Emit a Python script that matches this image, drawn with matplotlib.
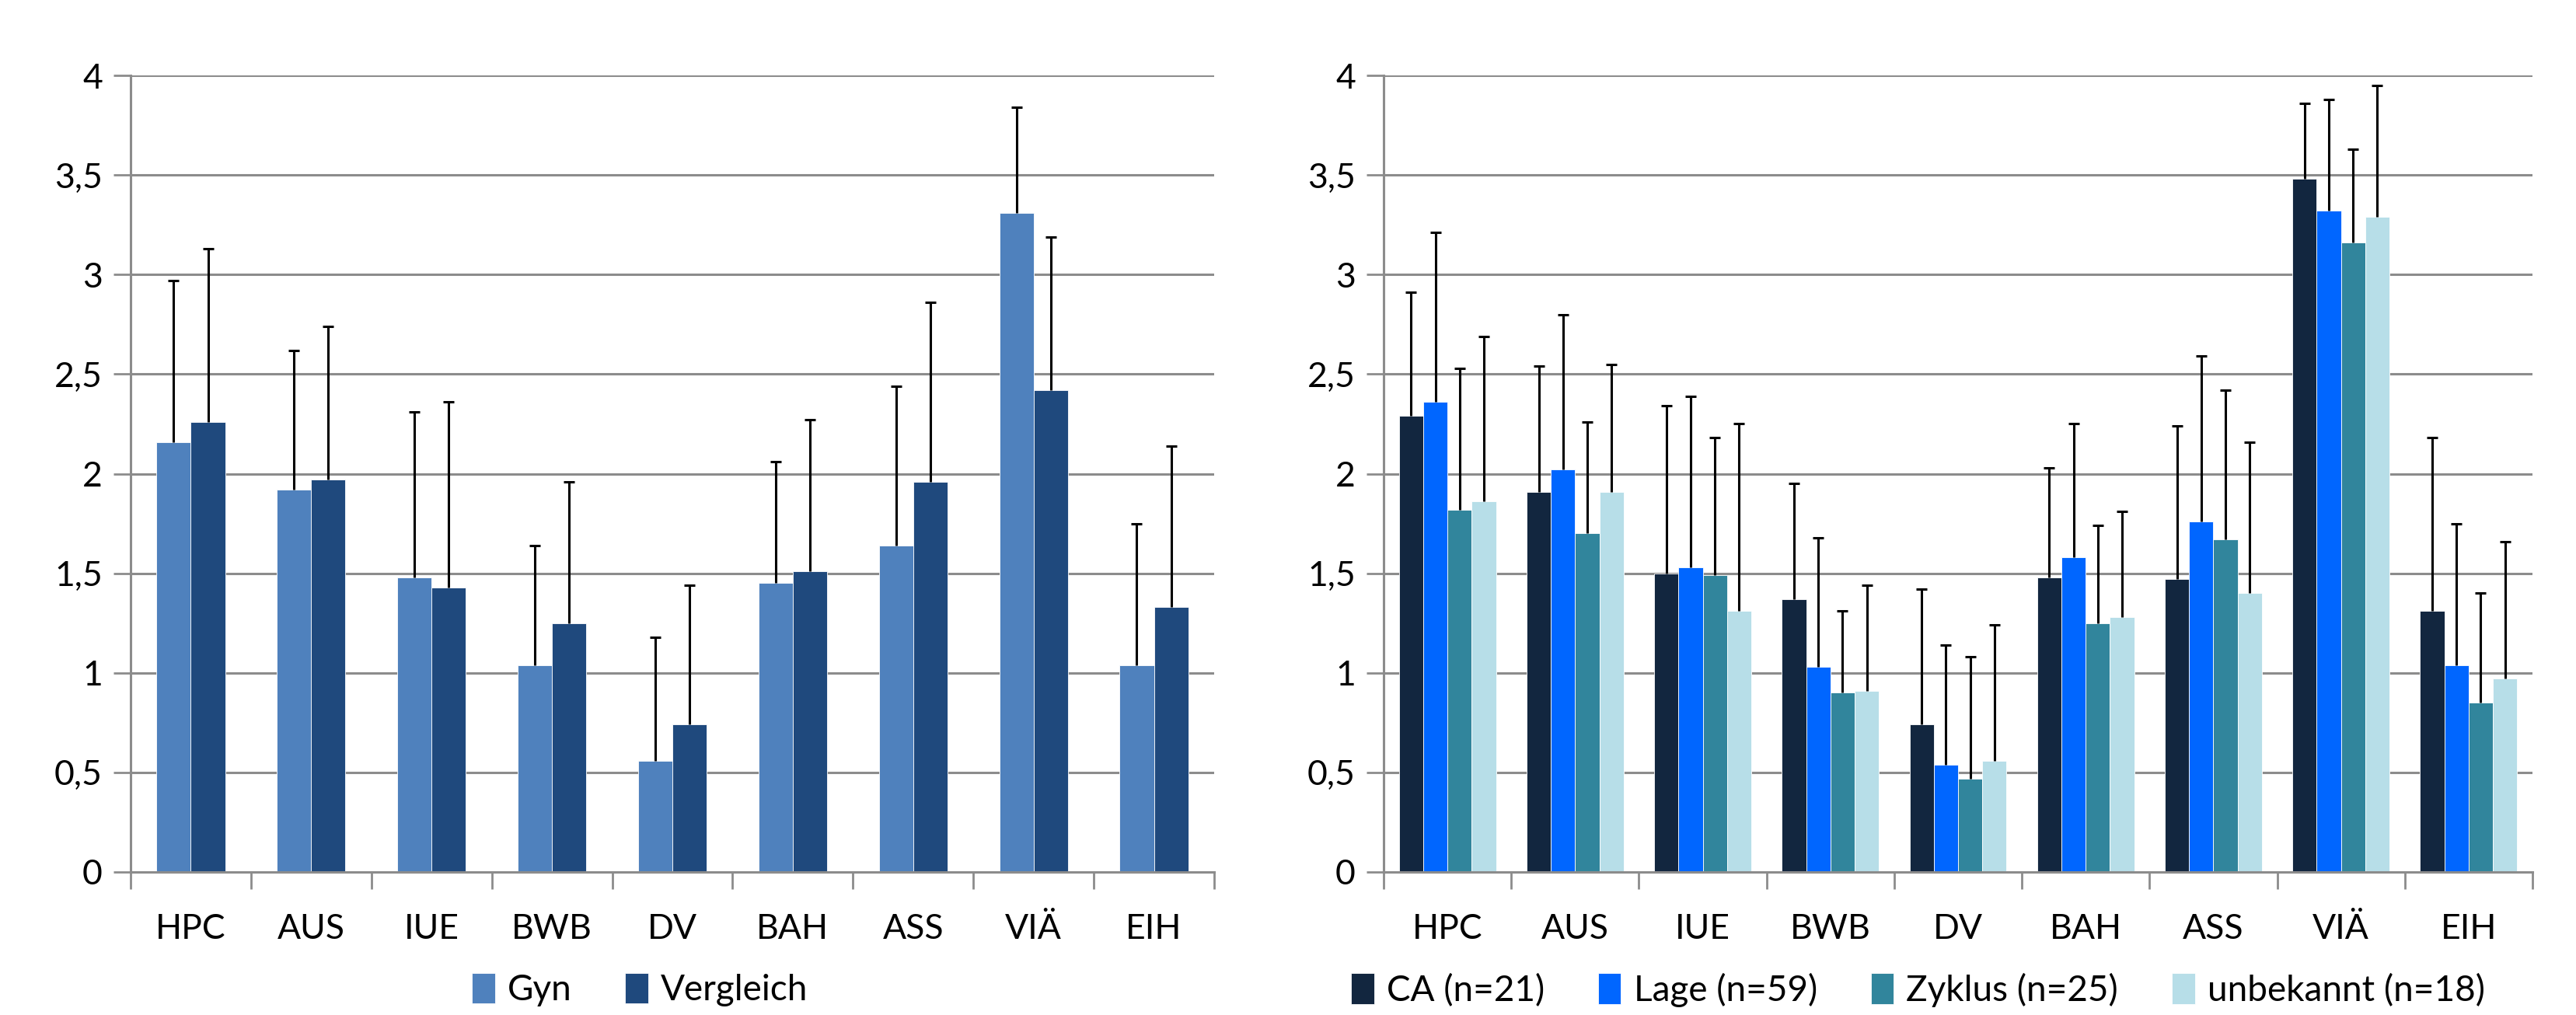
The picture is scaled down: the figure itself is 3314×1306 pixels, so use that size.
import numpy as np
import matplotlib.pyplot as plt

# ---- data ----
categories = ['HPC', 'AUS', 'IUE', 'BWB', 'DV', 'BAH', 'ASS', 'VIÄ', 'EIH']

gyn = [2.16, 1.92, 1.48, 1.04, 0.56, 1.45, 1.64, 3.31, 1.04]
gyn_sd = [0.81, 0.70, 0.83, 0.60, 0.62, 0.61, 0.80, 0.53, 0.71]
vergleich = [2.26, 1.97, 1.43, 1.25, 0.74, 1.51, 1.96, 2.42, 1.33]
vergleich_sd = [0.87, 0.77, 0.93, 0.71, 0.70, 0.76, 0.90, 0.77, 0.81]

ca = [2.29, 1.91, 1.50, 1.37, 0.74, 1.48, 1.47, 3.48, 1.31]
ca_sd = [0.62, 0.63, 0.84, 0.58, 0.68, 0.55, 0.77, 0.38, 0.87]
lage = [2.36, 2.02, 1.53, 1.03, 0.54, 1.58, 1.76, 3.32, 1.04]
lage_sd = [0.85, 0.78, 0.86, 0.65, 0.60, 0.67, 0.83, 0.56, 0.71]
zyklus = [1.82, 1.70, 1.49, 0.90, 0.47, 1.25, 1.67, 3.16, 0.85]
zyklus_sd = [0.71, 0.56, 0.69, 0.41, 0.61, 0.49, 0.75, 0.47, 0.55]
unbekannt = [1.86, 1.91, 1.31, 0.91, 0.56, 1.28, 1.40, 3.29, 0.97]
unbekannt_sd = [0.83, 0.64, 0.94, 0.53, 0.68, 0.53, 0.76, 0.66, 0.69]

y_ticks = [0, 0.5, 1, 1.5, 2, 2.5, 3, 3.5, 4]
y_labels = ['0', '0,5', '1', '1,5', '2', '2,5', '3', '3,5', '4']

plt.rcParams['font.family'] = ['Lato', 'DejaVu Sans']

fig = plt.figure(figsize=(33.14, 13.06), dpi=100)
W, H = 3314, 1306


def add_ax(x0, x1, y0, y1):
    return fig.add_axes([x0 / W, 1 - y1 / H, (x1 - x0) / W, (y1 - y0) / H])


def draw_panel(ax, series, errors, colors, labels, bar_w, legend_x):
    n = len(series)
    x = np.arange(len(categories))
    for i, (vals, err, c, lab) in enumerate(zip(series, errors, colors, labels)):
        pos = x + (i - (n - 1) / 2) * bar_w
        ax.bar(pos, vals, width=bar_w, color=c, label=lab, zorder=2,
               edgecolor='white', linewidth=0.6)
        eb = ax.errorbar(pos, vals, yerr=[np.zeros(len(vals)), err], fmt='none',
                         ecolor='black', elinewidth=2.2, capsize=5, capthick=2.2,
                         zorder=3)
        # only the upper cap is shown
        eb[1][0].set_visible(False)
    ax.set_xlim(-0.5, len(categories) - 0.5)
    ax.set_ylim(0, 4)
    ax.set_yticks(y_ticks)
    ax.set_yticklabels(y_labels, fontsize=32)
    ax.yaxis.grid(True, color='#8c8c8c', linewidth=2.2, zorder=0)
    ax.set_axisbelow(True)
    ax.set_xticks(x)
    ax.set_xticklabels(categories, fontsize=32)
    ax.set_xticks(np.arange(-0.5, len(categories)), minor=True)
    ax.tick_params(axis='x', which='major', length=0, pad=38)
    ax.tick_params(axis='x', which='minor', length=16, width=2, color='#8c8c8c')
    ax.tick_params(axis='y', length=16, width=2, color='#8c8c8c', pad=10)
    for s in ['top', 'right']:
        ax.spines[s].set_visible(False)
    for s in ['left', 'bottom']:
        ax.spines[s].set_color('#8c8c8c')
        ax.spines[s].set_linewidth(2.2)
    ax.legend(loc='center', bbox_to_anchor=(legend_x, -0.148), ncol=n,
              frameon=False, fontsize=33, handlelength=0.65, handleheight=0.95,
              handletextpad=0.35, columnspacing=1.5)


ax1 = add_ax(168, 1562, 97, 1122)
draw_panel(ax1, [gyn, vergleich], [gyn_sd, vergleich_sd],
           ['#4f81bd', '#1f497d'], ['Gyn', 'Vergleich'], 0.285, 0.47)

ax2 = add_ax(1780, 3258, 97, 1122)
draw_panel(ax2, [ca, lage, zyklus, unbekannt],
           [ca_sd, lage_sd, zyklus_sd, unbekannt_sd],
           ['#12263f', '#0066ff', '#31859c', '#b7dee8'],
           ['CA (n=21)', 'Lage (n=59)', 'Zyklus (n=25)', 'unbekannt (n=18)'],
           0.19, 0.465)

fig.savefig('out.png', dpi=100, facecolor='white')
